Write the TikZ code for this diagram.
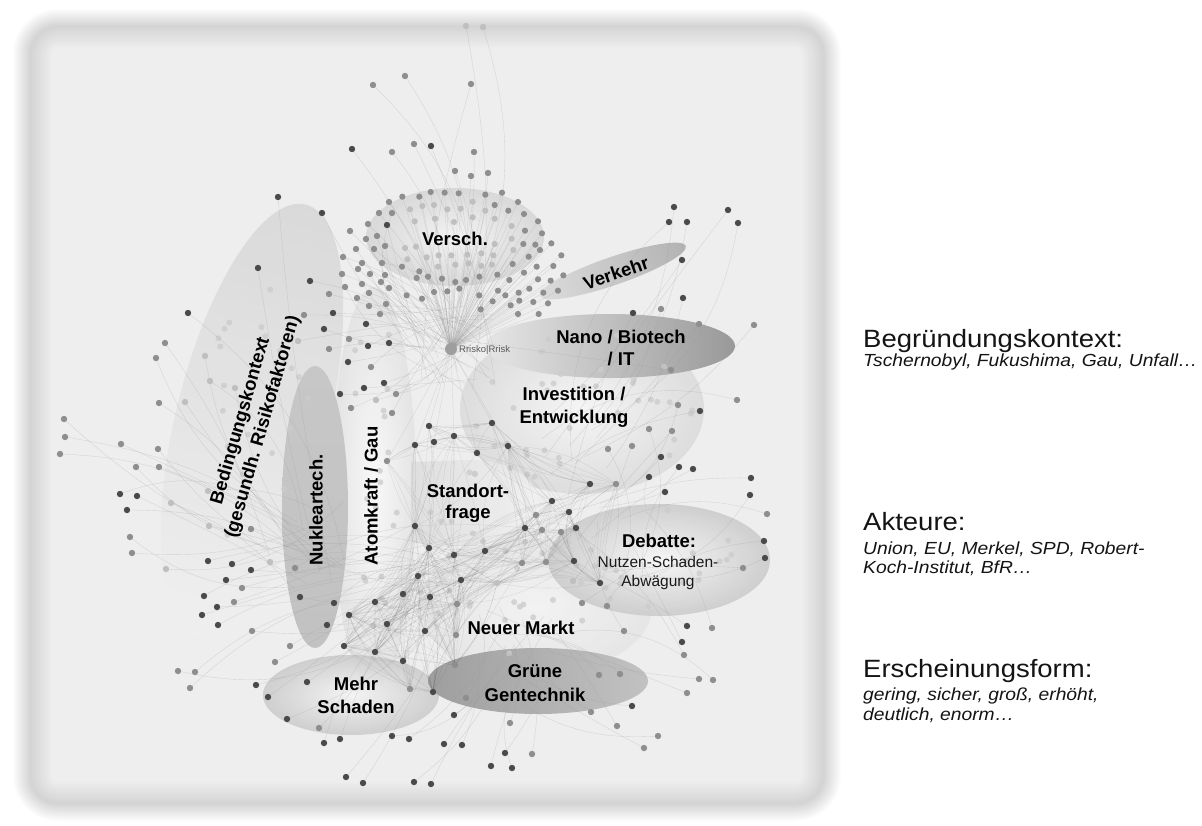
\documentclass[tikz,border=0pt]{standalone}
\usepackage{fontspec}
\setmainfont{Liberation Sans}
\newfontfamily\rtext[FakeStretch=1.1]{Liberation Sans}
\definecolor{dD}{HTML}{4A4A4A}
\definecolor{dM}{HTML}{8E8E8E}
\definecolor{dL}{HTML}{BFBFBF}
\tikzset{
 spoke/.style={draw=black!45, line width=0.3pt, opacity=0.28},
 hair/.style={draw=black!40, line width=0.35pt, opacity=0.33},
 webline/.style={draw=black!70, line width=0.3pt, opacity=0.16},
 lbl/.style={font=\bfseries\fontsize{18.5}{23}\selectfont, text=black, inner sep=0pt},
 sublbl/.style={font=\fontsize{15.5}{19}\selectfont, text=black!90, inner sep=0pt},
 rhead/.style={font=\rtext\fontsize{25}{28}\selectfont, anchor=base west, inner sep=0pt, text=black!92},
 rsub/.style={font=\rtext\itshape\fontsize{17.5}{20}\selectfont, anchor=base west, inner sep=0pt, text=black!92},
}
\def\alldots{466/26/L/th, 483/27/L/th, 373/85/M/th, 405/76/M/th, 471/84/M/th,
392/152/M/th, 414/144/M/th, 431/146/D/th, 474/152/M/th, 455/171/M/th, 471/176/M/th, 488/173/M/th,
352/149/D/th, 278/197/D/tb, 322/213/D/th, 258/268/D/tb, 310/281/D/th, 188/313/D/tb, 165/343/M/tb, 156/358/M/tb,
329/294/M/th, 333/313/D/th, 324/329/D/th, 304/315/M/th, 298/341/L/th, 329/349/M/th,
205/356/L/tb, 210/381/L/tb, 235/388/L/tb, 159/403/M/tb, 185/402/L/tb, 64/419/M/tb, 65/437/M/tb, 60/454/M/tb,
121/444/M/tb, 158/449/M/tb, 136/467/M/tb, 159/467/M/tb, 120/494/D/tb, 137/496/D/tb, 127/510/D/tb, 130/537/M/tb, 132/553/M/tb,
171/503/L/tb, 209/526/L/tb, 166/569/L/tb, 208/491/L/tb, 251/529/M/tw,
208/561/D/tw, 232/564/D/tw, 251/570/D/tw, 226/580/D/tw, 242/588/M/tw, 204/596/D/tw, 217/607/D/tw, 234/602/M/tw, 202/615/D/tw, 218/625/D/tw, 252/631/M/tw, 270/562/L/tw,
295/568/M/tw, 300/597/D/tw, 334/603/D/tw, 327/625/D/tw, 290/646/M/tw, 275/662/M/tw,
178/671/M/tw, 195/672/M/tw, 190/688/M/tw, 256/685/D/tw, 268/697/D/tw, 307/682/D/tw, 287/719/D/tw, 319/728/M/tw, 324/743/D/tw, 340/739/D/tw, 392/736/D/tg, 346/777/D/tw, 363/783/D/tw,
350/231/M/th, 368/224/M/th, 387/225/D/th, 366/239/M/th, 377/236/M/th, 389/202/M/th, 379/213/M/th, 392/213/M/th, 343/257/M/th, 356/249/M/th, 374/249/M/th, 385/246/M/th, 362/263/M/th, 382/263/M/th, 342/274/M/th, 358/269/M/th, 370/274/M/th, 385/275/M/th, 345/287/M/th, 362/284/M/th, 381/282/M/th, 389/288/M/th, 357/298/M/th, 369/293/M/th, 369/306/M/th, 386/304/M/th, 380/314/M/th, 366/324/D/th, 368/346/D/th, 389/343/D/th, 349/339/M/th, 371/367/M/th, 348/362/D/th, 364/388/D/th, 384/383/D/th, 340/394/D/th, 396/394/M/th, 351/408/M/th, 392/413/M/th, 376/400/L/th,
674/207/D/ti, 669/222/D/ti, 687/222/D/ti, 728/210/D/ti, 738/223/D/ti, 682/260/D/ti, 683/298/D/ti, 633/313/D/ti, 661/309/M/ti, 699/324/M/ti, 754/325/M/ti, 737/400/M/ti, 700/411/D/ti, 671/370/M/th, 678/405/M/ti, 649/429/M/td, 632/446/M/td, 608/449/M/td,
672/431/M/td, 661/457/D/td, 693/469/D/td, 649/477/D/td, 665/492/D/td, 751/478/D/td, 750/495/D/td, 767/514/M/td, 764/541/D/td, 765/558/D/td, 743/568/M/td, 679/467/D/td,
687/626/D/td, 712/628/M/td, 682/642/D/td, 624/631/M/td, 684/655/M/td, 607/606/M/td, 582/603/M/td, 573/581/L/td,
466/698/M/tg, 454/715/D/tg, 510/723/M/tg, 599/675/M/tg, 620/674/M/tg, 632/706/D/tg, 591/712/M/tg, 617/726/M/tg, 699/679/M/tg, 687/693/M/tg, 658/736/M/tg, 644/748/M/tg, 713/680/M/tg,
409/739/D/tg, 444/744/D/tg, 462/745/D/tg, 505/753/D/tg, 532/754/M/tg, 491/766/D/tg, 512/768/D/tg, 414/782/D/tg, 431/784/D/tg}
\def\centdots{429/426/D, 492/423/D, 454/436/D, 415/445/D, 434/442/D, 477/453/D, 508/446/D, 387/461/M, 590/484/D, 616/484/M, 552/501/D, 569/512/D, 415/526/D, 536/515/M, 525/528/D, 542/530/M, 561/532/M, 576/528/D, 429/548/D, 454/555/D, 485/551/D, 522/563/M, 546/562/M, 574/561/D, 418/576/D, 461/580/D, 497/583/L, 403/594/D, 430/597/D, 457/604/M, 375/602/D, 349/615/D, 387/624/D, 425/631/D, 456/635/M, 344/646/D, 375/652/D, 403/661/D, 455/665/M, 600/583/D, 410/689/M, 433/692/D}
\def\cxs{{429,492,454,415,434,477,508,387,590,616,552,569,415,536,525,542,561,576,429,454,485,522,546,574,418,461,497,403,430,457,375,349,387,425,456,344,375,403,455,600,410,433}}
\def\cys{{426,423,436,445,442,453,446,461,484,484,501,512,526,515,528,530,532,528,548,555,551,563,562,561,576,580,583,594,597,604,602,615,624,631,635,646,652,661,665,583,689,692}}
\def\verschdots{127/530, 178/530, 212/516, 254/518, 296/520, 376/524, 426/518, 474/546, 150/568, 187/558, 222/555, 262/568, 302/566, 338/545, 376/572, 404/555, 445/572, 492/582, 534/604, 164/604, 225/596, 282/606, 338/592, 404/596, 455/618, 495/632, 546/640, 135/684, 168/680, 404/672, 455/656, 490/672, 526/674, 574/670, 142/718, 200/712, 236/706, 274/706, 322/704, 364/700, 400/706, 460/690, 506/710, 540/690, 604/706, 126/740, 178/754, 234/740, 286/734, 326/730, 364/738, 396/734, 458/732, 492/758, 530/740, 580/738, 170/774, 204/770, 246/776, 286/786, 318/780, 358/770, 412/764, 448/780, 534/778, 572/782, 610/766, 140/826, 186/836, 222/816, 262/814, 298/806, 358/826, 414/812, 436/826, 476/818, 508/806, 550/818, 594/812, 362/868, 398/844, 452/856, 478/842, 520/846, 564/850, 474/882, 536/882}
\begin{document}
\begin{tikzpicture}[x=1pt,y=-1pt]
\pgfmathsetseed{4711}
\useasboundingbox (0,0) rectangle (1202,825);
\fill[white] (0,0) rectangle (1202,825);
% framed panel with soft border
\foreach \i in {0,...,40} {
  \pgfmathsetmacro\p{\i<=18 ? 17*\i/18 : 17-(17-6.7)*(\i-18)/22}
  \pgfmathsetmacro\rc{max(46-\i,6)}
  \fill[black!\p, rounded corners=\rc pt] (12+\i,8+\i) rectangle (842-\i,822-\i);
}
% light cluster areas
\begin{scope}[transform canvas={shift={(252,420)},rotate=76}]
  \shade[left color=black!6, middle color=black!13, right color=black!16, opacity=.85] (0,0) ellipse [x radius=222pt, y radius=76pt];
\end{scope}
\shade[inner color=black!1, outer color=black!12, opacity=.75] (374,487) ellipse [x radius=42pt, y radius=200pt];
\shade[inner color=black!3, outer color=black!15, opacity=.8] (582,409) ellipse [x radius=122pt, y radius=85pt];
\shade[inner color=black!4, outer color=black!11, opacity=.7] (535,607) ellipse [x radius=117pt, y radius=68pt];
\shade[left color=black!14, right color=black!5, opacity=.8] (411,462) -- (411,542) .. controls (460,550) and (525,548) .. (538,515) .. controls (545,480) and (510,460) .. (470,460) -- cycle;
\shade[inner color=black!3, outer color=black!21, opacity=.85] (659,560) ellipse [x radius=111pt, y radius=56pt];
\shade[inner color=black!4, outer color=black!17, opacity=.8] (455,237) ellipse [x radius=89pt, y radius=49pt];
\shade[inner color=black!4, outer color=black!21, opacity=.85] (351,695) ellipse [x radius=88pt, y radius=40pt];
% dark cluster areas
\shade[top color=black!22, middle color=black!61, bottom color=black!24] (315,507) ellipse [x radius=33pt, y radius=141pt];
\shade[left color=black!10, middle color=black!52, right color=black!40] (610,346) ellipse [x radius=125pt, y radius=32pt];
\shade[left color=black!38, middle color=black!60, right color=black!24] (538,681) ellipse [x radius=110pt, y radius=33pt];
\begin{scope}[transform canvas={shift={(613,271)},rotate=19}]
  \shade[left color=black!14, middle color=black!58, right color=black!30] (0,0) ellipse [x radius=77pt, y radius=14pt];
\end{scope}
% anchors
\coordinate (th) at (451,349);
\coordinate (tw) at (445,565);
\coordinate (tb) at (300,545);
\coordinate (td) at (610,545);
\coordinate (tg) at (520,650);
\coordinate (ti) at (575,460);
% random faint dots
\foreach \cx/\cy/\rx/\ry/\n in {582/409/115/78/40, 520/595/110/62/30, 374/470/30/160/20, 659/560/100/50/15, 250/430/60/150/22, 470/500/50/35/8} {
  \foreach \j in {1,...,\n} {
    \pgfmathsetmacro\ang{rnd*360}
    \pgfmathsetmacro\rad{sqrt(rnd)}
    \fill[black!20, opacity=.8] ({\cx+\rx*\rad*cos(\ang)},{\cy+\ry*\rad*sin(\ang)}) circle (3pt);
  }
}
% Versch cluster spokes
\foreach \X/\Y [count=\k] in \verschdots {
  \coordinate (v\k) at ({360+\X/3},{20+\Y/3});
  \draw[spoke] (th) -- (v\k);
}
% edges of all other dots
\foreach \x/\y/\s/\t [count=\k] in \alldots {
  \coordinate (p\k) at (\x,\y);
  \pgfmathsetmacro\bb{rand*28}
  \pgfmathsetmacro\ox{rand*45}
  \pgfmathsetmacro\oy{rand*45}
  \path (\t) ++(\ox,\oy) coordinate (e\k);
  \draw[hair] (p\k) to[bend left=\bb] (e\k);
}
% central web
\foreach \x/\y/\s [count=\k from 0] in \centdots { \coordinate (c\k) at (\x,\y); }
\foreach \k in {0,...,7} { \draw[spoke] (th) -- (c\k); }
\foreach \e in {1,...,900} {
  \pgfmathtruncatemacro\a{int(rnd*42)}
  \pgfmathtruncatemacro\b{int(rnd*42)}
  \pgfmathsetmacro\dd{veclen(\cxs[\a]-\cxs[\b],\cys[\a]-\cys[\b])}
  \pgfmathsetmacro\bb{rand*20}
  \ifdim\dd pt<125pt \ifdim\dd pt>1pt \draw[webline] (c\a) to[bend left=\bb] (c\b); \fi\fi
}
% dots
\foreach \X/\Y [count=\k] in \verschdots {
  \pgfmathsetmacro\rr{((360+\X/3-455)/89)^2+((20+\Y/3-237)/49)^2}
  \ifdim\rr pt<0.6pt \def\cc{dL}\else\def\cc{dM}\fi
  \fill[fill=\cc] (v\k) circle (3.1pt);
}
\foreach \x/\y/\s/\t [count=\k] in \alldots { \fill[fill=d\s] (p\k) circle (3.2pt); }
\foreach \x/\y/\s [count=\k from 0] in \centdots { \fill[fill=d\s] (c\k) circle (3.2pt); }
% hub
\node[circle, fill=black!38, inner sep=0pt, minimum size=12pt] (hubdot) at (th) {};
\node[font=\fontsize{9.5}{11}\selectfont, text=black!65, anchor=west, inner sep=0pt] (hublbl) at (459,350) {Rrisko|Rrisk};
% cluster labels
\node[lbl, anchor=base] (lversch) at (455,245) {Versch.};
\node[lbl, rotate=19] (lverk) at (616,273) {Verkehr};
\node[lbl, anchor=base] (lnano1) at (621,343) {Nano / Biotech};
\node[lbl, anchor=base] (lnano2) at (621,365) {/ IT};
\node[lbl, anchor=base] (linv1) at (574,400) {Investition /};
\node[lbl, anchor=base] (linv2) at (574,423) {Entwicklung};
\node[lbl, anchor=base] (lst1) at (468,497) {Standort-};
\node[lbl, anchor=base] (lst2) at (468,518) {frage};
\node[lbl, anchor=base] (ldeb) at (659,547) {Debatte:};
\node[sublbl, anchor=base] (ldeb2) at (658,567) {Nutzen-Schaden-};
\node[sublbl, anchor=base] (ldeb3) at (658,586) {Abwägung};
\node[lbl, anchor=base] (lnm) at (521,634) {Neuer Markt};
\node[lbl, anchor=base] (lgr1) at (535,677) {Grüne};
\node[lbl, anchor=base] (lgr2) at (535,701) {Gentechnik};
\node[lbl, anchor=base] (lms1) at (356,690) {Mehr};
\node[lbl, anchor=base] (lms2) at (356,713) {Schaden};
\node[lbl, rotate=90] (lnuk) at (316,510) {Nukleartech.};
\node[lbl, rotate=90] (latom) at (371,496) {Atomkraft / Gau};
\node[lbl, rotate=74, align=center] (lbed) at (252,424) {Bedingungskontext\\(gesundh. Risikofaktoren)};
% legend on the right
\node[rhead] (h1) at (863,347) {Begründungskontext:};
\node[rsub] (s1) at (863,366) {Tschernobyl, Fukushima, Gau, Unfall…};
\node[rhead] (h2) at (863,530) {Akteure:};
\node[rsub] (s2) at (863,554) {Union, EU, Merkel, SPD, Robert-};
\node[rsub] (s3) at (863,573) {Koch-Institut, BfR…};
\node[rhead] (h3) at (863,677) {Erscheinungsform:};
\node[rsub] (s4) at (863,700) {gering, sicher, groß, erhöht,};
\node[rsub] (s5) at (863,720) {deutlich, enorm…};
\end{tikzpicture}
\end{document}
